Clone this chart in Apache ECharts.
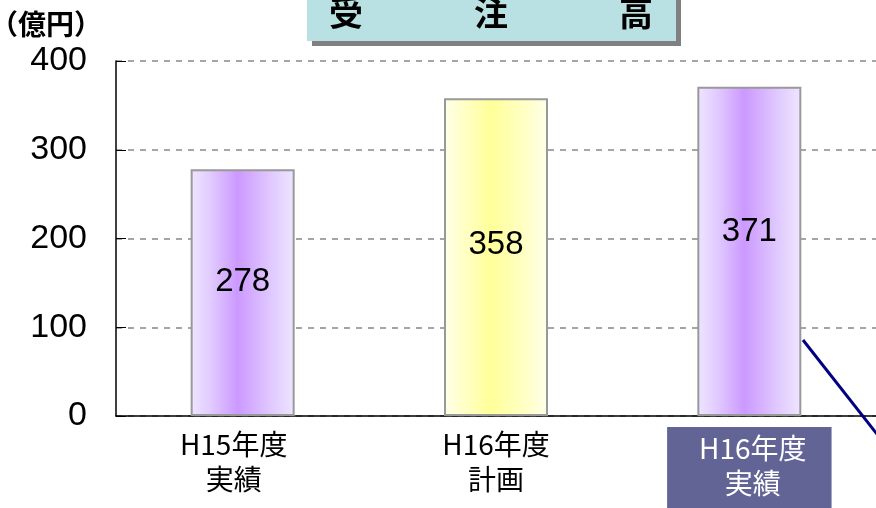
<!DOCTYPE html>
<html>
<head>
<meta charset="utf-8">
<script src="https://cdn.jsdelivr.net/npm/echarts@6/dist/echarts.min.js"></script>
<style>
  html, body { margin: 0; padding: 0; background: #fff; }
  #chart { width: 876px; height: 508px; }
</style>
</head>
<body>
<div id="chart"></div>
<script>
// data
const categories = ['H15年度\n実績', 'H16年度\n計画', 'H16年度\n実績']
const values = [278, 358, 371]
const yTicks = [0, 100, 200, 300, 400]
const titleChars = ['受', '注', '高']

const cjk = '"Noto Sans CJK JP", sans-serif'
const latin = '"Liberation Sans", Arial, sans-serif'

// 紫・黄のグラデーション（横方向）
function grad (edge, mid, center) {
  return new echarts.graphic.LinearGradient(0, 0, 1, 0, [
    { offset: 0, color: edge },
    { offset: 0.18, color: mid },
    { offset: 0.45, color: center },
    { offset: 0.8, color: mid },
    { offset: 1, color: edge }
  ])
}
const purple = grad('#efe5ff', '#e2cdff', '#cc99ff')
const yellow = grad('#ffffea', '#ffffc8', '#ffff99')
const barColors = [purple, yellow, purple]
const labelOffsets = [[0, -11], [0, -12], [0, -19]]
// 軸ラベルの個別スタイル（3番目は強調表示）
const catLabelStyles = [
  { padding: [0, 18, 0, 0] },
  {},
  { color: '#fff', backgroundColor: '#626496', padding: [4, 25, 16, 32] }
]

const chart = echarts.init(document.getElementById('chart'))

const option = {
  animation: false,
  grid: { left: 116, right: 0, top: 61, bottom: 92, outerBoundsMode: 'none' },
  xAxis: {
    type: 'category',
    data: categories.map((c, i) => ({ value: c, textStyle: catLabelStyles[i] })),
    axisLine: { lineStyle: { color: '#000', width: 1.5 } },
    axisTick: { inside: true, length: 10, lineStyle: { color: '#000' } },
    axisLabel: {
      margin: 11,
      fontFamily: cjk,
      fontSize: 28,
      lineHeight: 35,
      color: '#000'
    }
  },
  yAxis: {
    type: 'value',
    min: yTicks[0],
    max: yTicks[yTicks.length - 1],
    interval: 100,
    name: '（億円）',
    nameLocation: 'end',
    nameGap: 23,
    nameTextStyle: {
      fontFamily: cjk,
      fontWeight: 'bold',
      fontSize: 28,
      color: '#000',
      align: 'right',
      padding: [0, 14, 0, 0]
    },
    axisLine: { show: true, lineStyle: { color: '#000', width: 1.5 } },
    axisTick: { show: true, inside: true, length: 10, lineStyle: { color: '#000' } },
    axisLabel: {
      margin: 29,
      fontFamily: latin,
      fontSize: 34,
      color: '#000'
    },
    splitLine: { lineStyle: { color: '#888', type: [6, 6], width: 1.5 } }
  },
  series: [{
    type: 'bar',
    barWidth: 104,
    data: values.map((v, i) => ({
      value: v,
      itemStyle: { color: barColors[i] },
      label: { offset: labelOffsets[i] }
    })),
    itemStyle: { borderColor: '#999', borderWidth: 2 },
    label: {
      show: true,
      position: 'inside',
      fontFamily: latin,
      fontSize: 33,
      color: '#000'
    }
  }],
  graphic: [
    // タイトル枠（影つき）
    { type: 'rect', shape: { x: 312, y: -10, width: 369, height: 56 }, style: { fill: '#808080' }, z: 10 },
    { type: 'rect', shape: { x: 307, y: -10, width: 369, height: 51 }, style: { fill: '#b9e0e3' }, z: 11 },
    ...titleChars.map((ch, i) => ({
      type: 'text',
      x: 346 + i * 145,
      y: 13,
      z: 12,
      style: {
        text: ch,
        font: 'bold 34px "Noto Sans CJK JP"',
        fill: '#000',
        align: 'center',
        verticalAlign: 'middle'
      }
    })),
    // 右下の引出し線
    { type: 'line', shape: { x1: 803, y1: 340, x2: 880, y2: 438 }, style: { stroke: '#000080', lineWidth: 3 }, z: 20 }
  ]
}

chart.setOption(option)
</script>
</body>
</html>
